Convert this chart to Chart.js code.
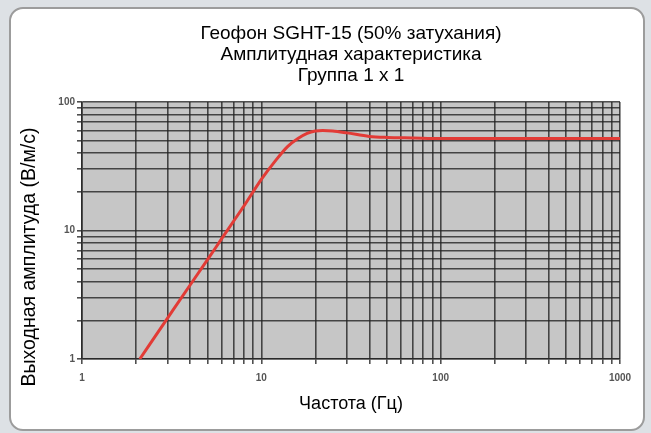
<!DOCTYPE html>
<html>
<head>
<meta charset="utf-8">
<script src="https://cdn.jsdelivr.net/npm/chart.js@4"></script>
<style>
    html, body { margin: 0; padding: 0; }
    body { width: 651px; height: 433px; background: #dde1e5; position: relative; overflow: hidden; }
    #panel {
        position: absolute; left: 9px; top: 7px; width: 632px; height: 420px;
        background: #fff; border: 2px solid #9c9c9c; border-radius: 14px;
    }
    #wrap { position: absolute; left: 0; top: 0; width: 651px; height: 433px; }
</style>
</head>
<body>
<div id="panel"></div>
<div id="wrap"><canvas id="chart"></canvas></div>
<script>
// response curve
const freqs = [2.1, 3, 4, 5, 6, 7, 8, 10, 12, 14, 16, 18, 20, 22, 25, 30, 40, 50, 70, 100, 200, 500, 1000];
const amps = [1, 2.08, 3.75, 5.9, 8.6, 11.8, 15.5, 25, 35, 45, 52, 57, 59.5, 60, 59.5, 57.5, 54, 53, 52.5, 52, 52, 52, 52];

const xGrid = [1, 2, 3, 4, 5, 6, 7, 8, 9, 10, 20, 30, 40, 50, 60, 70, 80, 90, 100,
    200, 300, 400, 500, 600, 700, 800, 900, 1000];
const yGrid = [1, 2, 3, 4, 5, 6, 7, 8, 9, 10, 20, 30, 40, 50, 60, 70, 80, 90, 100];
const xLabels = [1, 10, 100, 1000];
const yLabels = [1, 10, 100];

const titleLines = ['Геофон SGHT-15 (50% затухания)', 'Амплитудная характеристика', 'Группа 1 x 1'];
const xTitle = 'Частота (Гц)';
const yTitle = 'Выходная амплитуда (В/м/с)';

const FONT = "'Liberation Sans', Arial, sans-serif";
const gridColor = 'rgba(35,35,35,0.8)';

const plotBg = {
    id: 'plotBg',
    beforeDraw(chart) {
        const { ctx, chartArea: a } = chart;
        ctx.save();
        ctx.fillStyle = '#c6c6c6';
        ctx.fillRect(a.left, a.top, a.right - a.left, a.bottom - a.top);
        ctx.restore();
    }
};

// y title sits a bit lower than the axis centre in the original
const yTitlePlugin = {
    id: 'yTitle',
    afterDraw(chart) {
        const ctx = chart.ctx;
        ctx.save();
        ctx.translate(30, 257);
        ctx.rotate(-Math.PI / 2);
        ctx.font = '19.5px ' + FONT;
        ctx.fillStyle = '#000';
        ctx.textAlign = 'center';
        ctx.textBaseline = 'middle';
        ctx.fillText(yTitle, 0, 0);
        ctx.restore();
    }
};

new Chart(document.getElementById('chart'), {
    type: 'line',
    data: {
        datasets: [{
            data: freqs.map((f, i) => ({ x: f, y: amps[i] })),
            borderColor: '#e23b36',
            borderWidth: 3,
            pointRadius: 0,
            cubicInterpolationMode: 'monotone',
            fill: false
        }]
    },
    options: {
        responsive: true,
        maintainAspectRatio: false,
        animation: false,
        layout: { padding: { left: 0, right: 31, top: 0, bottom: 14 } },
        plugins: {
            legend: { display: false },
            tooltip: { enabled: false },
            title: {
                display: true,
                text: titleLines,
                fullSize: false,
                color: '#000',
                font: { family: FONT, size: 19, weight: 'normal', lineHeight: 21 / 19 },
                padding: { top: 23, bottom: 16 }
            }
        },
        scales: {
            x: {
                type: 'logarithmic',
                min: 1,
                max: 1000,
                afterBuildTicks: axis => { axis.ticks = xGrid.map(v => ({ value: v })); },
                afterFit: axis => { axis.height = 60; },
                grid: { color: gridColor, lineWidth: 1.6, tickLength: 5 },
                border: { color: gridColor, width: 1.6 },
                ticks: {
                    autoSkip: false,
                    maxRotation: 0,
                    padding: 8,
                    color: '#555',
                    font: { family: FONT, size: 10, weight: 'bold' },
                    callback: v => xLabels.includes(v) ? String(v) : ''
                },
                title: {
                    display: true,
                    text: xTitle,
                    color: '#000',
                    font: { family: FONT, size: 18, weight: 'normal' },
                    padding: { top: 0, bottom: 4 }
                }
            },
            y: {
                type: 'logarithmic',
                min: 1,
                max: 100,
                afterBuildTicks: axis => { axis.ticks = yGrid.map(v => ({ value: v })); },
                afterFit: axis => { axis.width = 82; },
                grid: { color: gridColor, lineWidth: 1.6, tickLength: 5 },
                border: { color: gridColor, width: 1.6 },
                ticks: {
                    autoSkip: false,
                    padding: 2,
                    color: '#555',
                    font: { family: FONT, size: 10, weight: 'bold' },
                    callback: v => yLabels.includes(v) ? String(v) : ''
                }
            }
        }
    },
    plugins: [plotBg, yTitlePlugin]
});
</script>
</body>
</html>
